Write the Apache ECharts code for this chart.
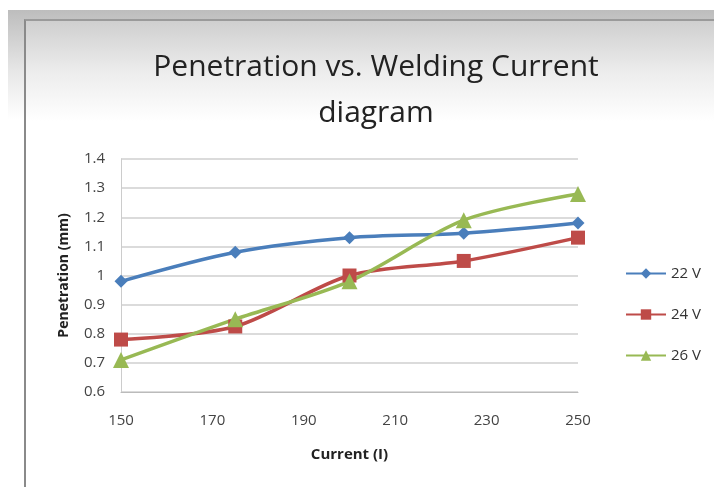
<!DOCTYPE html>
<html>
<head>
<meta charset="utf-8">
<script src="https://cdn.jsdelivr.net/npm/echarts@6/dist/echarts.min.js"></script>
<style>
html, body { margin: 0; padding: 0; background: #fff; }
#outer {
    position: absolute; left: 8px; top: 10px; width: 706px; height: 477px;
    background: linear-gradient(#bdbdbd 0px, #e6e6e6 60px, #fff 110px);
}
#frame {
    position: absolute; left: 24px; top: 19px; width: 690px; height: 468px;
    border-left: 2px solid #8a8a8a; border-top: 2px solid #9a9a9a;
    box-sizing: border-box;
    background: linear-gradient(#cfcfcf 0px, #ececec 50px, #fff 100px);
}
#chart { position: absolute; left: 0; top: 0; width: 714px; height: 487px; }
</style>
</head>
<body>
<div id="outer"></div>
<div id="frame"></div>
<div id="chart"></div>
<script>
// 数据
var current = [150, 175, 200, 225, 250];
var v22 = [0.98, 1.08, 1.13, 1.145, 1.18];
var v24 = [0.78, 0.825, 1.0, 1.05, 1.13];
var v26 = [0.71, 0.85, 0.98, 1.19, 1.28];
var seriesNames = ['22 V', '24 V', '26 V'];

function pairs(ys) {
    return current.map(function (x, i) { return [x, ys[i]]; });
}

var myChart = echarts.init(document.getElementById('chart'));
var font = '"Open Sans", sans-serif';
myChart.setOption({
    backgroundColor: 'transparent',
    textStyle: { fontFamily: font },
    title: {
        text: 'Penetration vs. Welding Current\ndiagram',
        left: 371,
        top: 39,
        textAlign: 'center',
        textStyle: { fontSize: 30, fontWeight: 'normal', color: '#222', lineHeight: 46, fontFamily: font }
    },
    legend: {
        orient: 'vertical',
        left: 620,
        top: 261,
        itemWidth: 40,
        itemHeight: 13,
        itemGap: 26,
        data: seriesNames,
        textStyle: { fontSize: 15, color: '#333', fontFamily: font }
    },
    grid: { left: 121, right: 136, top: 159, bottom: 95 },
    xAxis: {
        type: 'value',
        min: 150, max: 250, interval: 20,
        name: 'Current (I)',
        nameLocation: 'middle',
        nameGap: 55,
        nameTextStyle: { fontWeight: 'bold', fontSize: 15, color: '#222' },
        axisLine: { lineStyle: { color: '#bbb' } },
        axisTick: { show: false },
        axisLabel: { fontSize: 15, color: '#444', margin: 21 },
        splitLine: { show: false }
    },
    yAxis: {
        type: 'value',
        min: 0.6, max: 1.4, interval: 0.1,
        name: 'Penetration (mm)',
        nameLocation: 'middle',
        nameGap: 50,
        nameTextStyle: { fontWeight: 'bold', fontSize: 14, color: '#222' },
        axisLine: { show: true, lineStyle: { color: '#ccc' } },
        axisTick: { show: false },
        axisLabel: {
            fontSize: 15, color: '#444', margin: 16,
            formatter: function (v) { return String(Math.round(v * 10) / 10); }
        },
        splitLine: { lineStyle: { color: '#cfcfcf', width: 1.5 } }
    },
    series: [
        {
            name: '22 V', type: 'line', data: pairs(v22), smooth: 0.3,
            symbol: 'diamond', symbolSize: 13,
            lineStyle: { width: 3.5, color: '#4a7ebb' },
            itemStyle: { color: '#4a7ebb' }
        },
        {
            name: '24 V', type: 'line', data: pairs(v24), smooth: 0.3,
            symbol: 'rect', symbolSize: 14,
            lineStyle: { width: 3.5, color: '#be4b48' },
            itemStyle: { color: '#be4b48' }
        },
        {
            name: '26 V', type: 'line', data: pairs(v26), smooth: 0.3,
            symbol: 'triangle', symbolSize: 16,
            lineStyle: { width: 3.5, color: '#98b954' },
            itemStyle: { color: '#98b954' }
        }
    ]
});
</script>
</body>
</html>
